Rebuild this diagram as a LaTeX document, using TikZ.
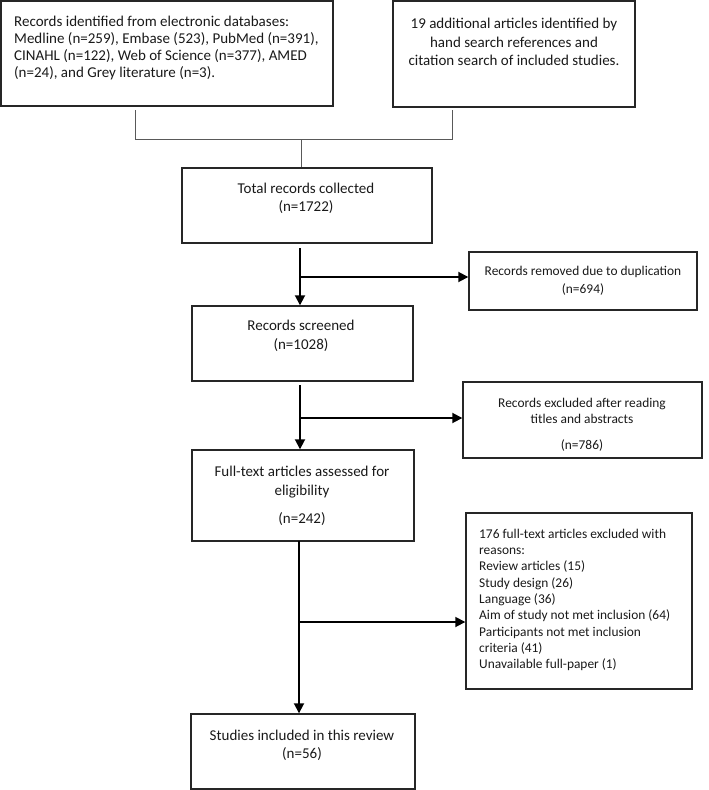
\documentclass[tikz,border=0pt]{standalone}
\usepackage{fontspec}
\setmainfont{Carlito}
\usetikzlibrary{arrows.meta}
\begin{document}
\begin{tikzpicture}[x=1pt,y=-1pt,
  box/.style={draw=black!85, line width=1.4pt, inner sep=0pt},
  txt/.style={inner sep=0pt, text=black!90},
  fs/.style={font=\fontsize{15}{#1}\selectfont},
  fsr/.style={font=\fontsize{13.4}{#1}\selectfont},
  bracket/.style={draw=black!65, line width=0.9pt},
  flow/.style={draw=black, line width=1.8pt, -{Triangle[length=10pt,width=10pt]}},
]
\useasboundingbox (0,0) rectangle (709,790);
% boxes
\node[box, minimum width=332pt, minimum height=105pt] (a) at (167,53.5) {};
\node[box, minimum width=242pt, minimum height=106pt] (b) at (514,54) {};
\node[box, minimum width=250pt, minimum height=75pt] (total) at (307,205.5) {};
\node[box, minimum width=228pt, minimum height=58pt] (removed) at (583,281) {};
\node[box, minimum width=221pt, minimum height=75pt] (screened) at (302.5,343.5) {};
\node[box, minimum width=239pt, minimum height=76pt] (excluded) at (582.5,420) {};
\node[box, minimum width=222pt, minimum height=91pt] (full) at (303,495.5) {};
\node[box, minimum width=226pt, minimum height=176pt] (reasons) at (579,601) {};
\node[box, minimum width=224pt, minimum height=75pt] (studies) at (303,751.5) {};
% texts
\node[txt, fs=16.7, align=left, anchor=west] (ta) at (14,48) {Records identified from electronic databases:\\Medline (n=259), Embase (523), PubMed (n=391),\\CINAHL (n=122), Web of Science (n=377), AMED\\(n=24), and Grey literature (n=3).};
\node[txt, fs=18.5, align=center] (tb) at (514,42) {19 additional articles identified by\\hand search references and\\citation search of included studies.};
\node[txt, fs=18, align=center] (ttotal) at (306,198.6) {Total records collected\\(n=1722)};
\node[txt, fsr=18, align=center] (tremoved) at (583,280.6) {Records removed due to duplication\\(n=694)};
\node[txt, fs=19, align=center] (tscreened) at (301,336) {Records screened\\(n=1028)};
\node[txt, fsr=16, align=center] (texcluded) at (582,424.6) {Records excluded after reading\\titles and abstracts\\[10pt](n=786)};
\node[txt, fs=19, align=center] (tfull) at (302,496) {Full-text articles assessed for\\eligibility\\[9pt](n=242)};
\node[txt, fsr=16.3, align=left, anchor=west] (treasons) at (479,600) {176 full-text articles excluded with\\reasons:\\Review articles (15)\\Study design (26)\\Language (36)\\Aim of study not met inclusion (64)\\Participants not met inclusion\\criteria (41)\\Unavailable full-paper (1)};
\node[txt, fs=18, align=center] (tstudies) at (302,745.6) {Studies included in this review\\(n=56)};
% bracket
\coordinate (blt) at (135,110);
\coordinate (bl) at (135,139);
\coordinate (br) at (452,139);
\coordinate (brt) at (452,110);
\coordinate (bm) at (301,139);
\draw[bracket] (blt) -- (bl) -- (br) -- (brt);
\draw[bracket] (bm) -- (bm |- total.north);
% spine
\coordinate (s1) at (300,248);
\coordinate (j1) at (300,277);
\coordinate (s2) at (300,385);
\coordinate (j2) at (300,418);
\coordinate (s3) at (299,541);
\coordinate (j3) at (299,622);
\draw[flow] (s1) -- (s1 |- screened.north);
\draw[flow] (j1) -- (j1 -| removed.west);
\draw[flow] (s2) -- (s2 |- full.north);
\draw[flow] (j2) -- (j2 -| excluded.west);
\draw[flow] (s3) -- (s3 |- studies.north);
\draw[flow] (j3) -- (j3 -| reasons.west);
\end{tikzpicture}
\end{document}
